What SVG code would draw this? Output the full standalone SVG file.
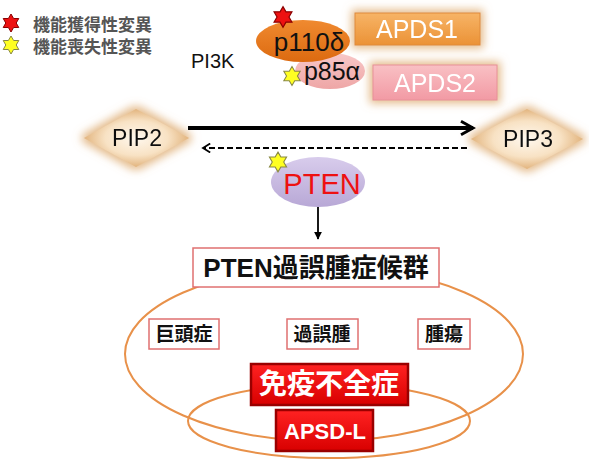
<svg xmlns="http://www.w3.org/2000/svg" width="589" height="465" viewBox="0 0 589 465">
<style>
text{font-family:"Liberation Sans","Noto Sans CJK JP",sans-serif}
.legend{font-size:17px;font-weight:bold;fill:#555}
.lbl{font-size:23px;fill:#111}
.ell{fill:none;stroke:#e8914a;stroke-width:2}
.wbox{fill:#fff;stroke:#e07070;stroke-width:1.5}
.dis{font-size:19px;font-weight:bold;fill:#111}
.rbox{fill:url(#gRed);stroke:#9a0000;stroke-width:2.5}
.wtxt{font-weight:bold;fill:#fff}
.starR{fill:#ee1111;stroke:#8a0000;stroke-width:1}
.starY{fill:#ffff22;stroke:#888844;stroke-width:1}
</style>
<defs>
<path id="star" d="M0,-9 L2.6,-4.5 L7.79,-4.5 L5.2,0 L7.79,4.5 L2.6,4.5 L0,9 L-2.6,4.5 L-7.79,4.5 L-5.2,0 L-7.79,-4.5 L-2.6,-4.5 Z"/>
<radialGradient id="gDia" cx="0.5" cy="0.5" r="0.5">
<stop offset="0" stop-color="#fff8ee"/><stop offset="0.6" stop-color="#f8e2c4"/><stop offset="1" stop-color="#e2b47e"/>
</radialGradient>
<linearGradient id="gOr" x1="0" y1="0" x2="0" y2="1"><stop offset="0" stop-color="#f08a30"/><stop offset="1" stop-color="#dc6a10"/></linearGradient>
<linearGradient id="gPk" x1="0" y1="0" x2="0" y2="1"><stop offset="0" stop-color="#f8c8c8"/><stop offset="1" stop-color="#eea6a6"/></linearGradient>
<linearGradient id="gLav" x1="0" y1="0" x2="0" y2="1"><stop offset="0" stop-color="#d8ccec"/><stop offset="1" stop-color="#b8a8d6"/></linearGradient>
<linearGradient id="gA1" x1="0" y1="0" x2="0" y2="1"><stop offset="0" stop-color="#f7b466"/><stop offset="1" stop-color="#eb9236"/></linearGradient>
<linearGradient id="gA2" x1="0" y1="0" x2="0" y2="1"><stop offset="0" stop-color="#f9c0c4"/><stop offset="1" stop-color="#f29aa4"/></linearGradient>
<linearGradient id="gRed" x1="0" y1="0" x2="0" y2="1"><stop offset="0" stop-color="#f22"/><stop offset="1" stop-color="#d80000"/></linearGradient>
<filter id="glow" x="-30%" y="-40%" width="160%" height="180%">
<feMorphology in="SourceAlpha" operator="dilate" radius="3" result="d"/>
<feGaussianBlur in="d" stdDeviation="4" result="b"/>
<feFlood flood-color="#e0b078" flood-opacity="0.85"/>
<feComposite in2="b" operator="in" result="g"/>
<feMerge><feMergeNode in="g"/><feMergeNode in="SourceGraphic"/></feMerge>
</filter>
<marker id="ahead" viewBox="0 0 12 12" refX="10" refY="6" markerWidth="4" markerHeight="5" orient="auto" markerUnits="strokeWidth">
<path d="M1,1 L10,6 L1,11" fill="none" stroke="#000" stroke-width="2.2"/>
</marker>
<marker id="adash" viewBox="0 0 12 12" refX="10" refY="6" markerWidth="6" markerHeight="6" orient="auto" markerUnits="strokeWidth">
<path d="M2,1 L10,6 L2,11" fill="none" stroke="#000" stroke-width="2"/>
</marker>
<marker id="adown" viewBox="0 0 10 10" refX="9" refY="5" markerWidth="4.5" markerHeight="4.5" orient="auto" markerUnits="strokeWidth">
<path d="M0,0 L10,5 L0,10 Z" fill="#000"/>
</marker>
</defs>
<rect width="589" height="465" fill="#fff"/>

<g id="legend">
<use href="#star" class="starR" transform="translate(11,23)"/>
<text class="legend" x="33" y="31">機能獲得性変異</text>
<use href="#star" class="starY" transform="translate(11,45)"/>
<text class="legend" x="33" y="53">機能喪失性変異</text>
</g>

<g id="pi3k-label"><text x="191" y="68" font-size="20" fill="#111">PI3K</text></g>

<g id="apds1" filter="url(#glow)">
<rect x="355" y="13" width="125" height="32" fill="url(#gA1)" stroke="#e08a3a" stroke-width="1"/>
<text x="417" y="38" font-size="25" fill="#fff" text-anchor="middle">APDS1</text>
</g>
<g id="apds2" filter="url(#glow)">
<rect x="373" y="65" width="124" height="35" fill="url(#gA2)" stroke="#e89098" stroke-width="1"/>
<text x="435" y="92" font-size="25" fill="#fff" text-anchor="middle">APDS2</text>
</g>

<g id="p85a">
<ellipse cx="330" cy="71" rx="35" ry="18" fill="url(#gPk)"/>
<text x="332" y="80" font-size="25" fill="#111" text-anchor="middle">p85α</text>
<use href="#star" class="starY" transform="translate(292,76) scale(1.05)"/>
</g>
<g id="p110d">
<ellipse cx="303" cy="41" rx="47" ry="21" fill="url(#gOr)"/>
<text x="309" y="51" font-size="26" fill="#111" text-anchor="middle">p110δ</text>
<use href="#star" class="starR" transform="translate(283,17) scale(1.15)"/>
</g>

<g id="pip2" filter="url(#glow)">
<polygon points="84,138 136,109 189,138 136,167" fill="url(#gDia)"/>
<text class="lbl" x="137" y="146" text-anchor="middle">PIP2</text>
</g>
<g id="pip3" filter="url(#glow)">
<polygon points="471,139 527,109 583,139 527,169" fill="url(#gDia)"/>
<text class="lbl" x="528" y="147" text-anchor="middle">PIP3</text>
</g>

<g id="pten">
<ellipse cx="318" cy="182" rx="47" ry="25" fill="url(#gLav)"/>
<text x="322" y="194" font-size="29" fill="#ee1111" text-anchor="middle">PTEN</text>
<use href="#star" class="starY" transform="translate(278,162) scale(1.1)"/>
</g>

<g id="connectors">
<line x1="188" y1="128" x2="473" y2="128" stroke="#000" stroke-width="4" marker-end="url(#ahead)"/>
<line x1="467" y1="148" x2="203" y2="148" stroke="#000" stroke-width="1.8" stroke-dasharray="6,3" marker-end="url(#adash)"/>
<line x1="318" y1="207" x2="318" y2="239" stroke="#000" stroke-width="1.8" marker-end="url(#adown)"/>
</g>

<g id="sets">
<ellipse class="ell" cx="324" cy="354" rx="199" ry="87"/>
<ellipse class="ell" cx="329" cy="421" rx="141" ry="37"/>
</g>

<g id="syndrome">
<rect class="wbox" x="193" y="248" width="246" height="39"/>
<text x="316" y="277" font-size="26" font-weight="bold" fill="#111" text-anchor="middle">PTEN過誤腫症候群</text>
</g>
<g id="macrocephaly">
<rect class="wbox" x="149" y="319" width="70" height="30"/>
<text class="dis" x="184" y="341" text-anchor="middle">巨頭症</text>
</g>
<g id="hamartoma">
<rect class="wbox" x="287" y="319" width="71" height="30"/>
<text class="dis" x="322" y="341" text-anchor="middle">過誤腫</text>
</g>
<g id="tumor">
<rect class="wbox" x="418" y="319" width="52" height="30"/>
<text class="dis" x="444" y="341" text-anchor="middle">腫瘍</text>
</g>
<g id="immunodeficiency">
<rect class="rbox" x="251" y="364" width="157" height="41"/>
<text class="wtxt" x="329" y="394" font-size="28" text-anchor="middle">免疫不全症</text>
</g>
<g id="apsd-l">
<rect class="rbox" x="276" y="410" width="97" height="41"/>
<text class="wtxt" x="325" y="439" font-size="22" text-anchor="middle">APSD-L</text>
</g>
</svg>
